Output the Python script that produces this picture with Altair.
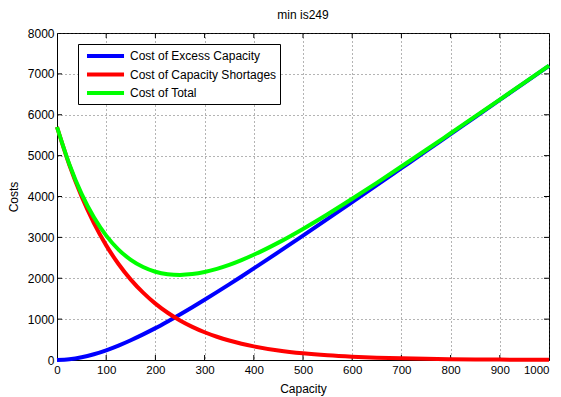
import altair as alt
import pandas as pd

capacity = [0, 25, 50, 75, 100, 125, 150, 175, 200, 225, 250, 275, 300, 325, 350, 375, 400,
            450, 500, 550, 600, 650, 700, 750, 800, 850, 900, 950, 1000]
excess = [0, 18, 66, 141, 238, 353, 484, 627, 780, 944, 1114, 1291, 1473, 1660, 1850, 2044, 2240,
          2638, 3043, 3451, 3863, 4277, 4693, 5109, 5527, 5944, 6362, 6781, 7199]
shortage = [5700, 4774, 3998, 3349, 2804, 2349, 1967, 1648, 1380, 1156, 968, 811, 679, 569, 476, 399, 334,
            234, 164, 115, 81, 57, 40, 28, 20, 14, 10, 7, 5]
total = [5700, 4792, 4064, 3490, 3042, 2702, 2451, 2275, 2160, 2100, 2082, 2102, 2152, 2229, 2326, 2443, 2574,
         2872, 3207, 3566, 3944, 4334, 4733, 5137, 5547, 5958, 6372, 6788, 7204]

series_names = ["Cost of Excess Capacity", "Cost of Capacity Shortages", "Cost of Total"]
series_colors = ["#0000FF", "#FF0000", "#00FF00"]
x_ticks = [0, 100, 200, 300, 400, 500, 600, 700, 800, 900, 1000]
y_ticks = [0, 1000, 2000, 3000, 4000, 5000, 6000, 7000, 8000]

rows = []
for i, (vals, name) in enumerate(zip([excess, shortage, total], series_names)):
    for c, v in zip(capacity, vals):
        rows.append({"Capacity": c, "Cost": v, "series": name, "order": i})
df = pd.DataFrame(rows)

W, H = 492, 327
FONT = "Liberation Sans"

xscale = alt.Scale(domain=[0, 1000], nice=False)
yscale = alt.Scale(domain=[0, 8000], nice=False)

lines = alt.Chart(df).mark_line(strokeWidth=4, interpolate="monotone").encode(
    x=alt.X("Capacity:Q", scale=xscale, title="Capacity",
            axis=alt.Axis(values=x_ticks, grid=True, tickSize=0, labelPadding=4,
                          titlePadding=8, format="d", labelFlush=False,
                          labelOverlap=False, labelFontSize=11.5,
                          labelAlign={"expr": "datum.value >= 1000 ? 'right' : 'center'"})),
    y=alt.Y("Cost:Q", scale=yscale, title="Costs",
            axis=alt.Axis(values=y_ticks, grid=True, tickSize=0, labelPadding=3,
                          titlePadding=7, format="d", labelFlush=False,
                          labelOverlap=False)),
    color=alt.Color("series:N", scale=alt.Scale(domain=series_names, range=series_colors),
                    legend=alt.Legend(title=None, orient="none", legendX=21, legendY=11,
                                      fillColor="white", strokeColor="black",
                                      padding=3, rowPadding=1.5,
                                      symbolType="M-0.43,0L4.86,0", symbolSize=196,
                                      symbolStrokeWidth=4, labelOffset=31,
                                      labelExpr="datum.label + '\u00a0\u00a0'",
                                      labelFont=FONT, labelFontSize=12,
                                      labelColor="black", cornerRadius=0)),
    detail="series:N",
    order="order:Q",
)

xt = pd.DataFrame({"t": x_ticks[1:-1]})
yt = pd.DataFrame({"t": y_ticks[1:-1]})
tick_bottom = alt.Chart(xt).mark_rule(color="black").encode(
    x=alt.X("t:Q", scale=xscale), y=alt.value(H - 5), y2=alt.value(H))
tick_top = alt.Chart(xt).mark_rule(color="black").encode(
    x=alt.X("t:Q", scale=xscale), y=alt.value(0), y2=alt.value(5))
tick_left = alt.Chart(yt).mark_rule(color="black").encode(
    y=alt.Y("t:Q", scale=yscale), x=alt.value(0), x2=alt.value(5))
tick_right = alt.Chart(yt).mark_rule(color="black").encode(
    y=alt.Y("t:Q", scale=yscale), x=alt.value(W - 5), x2=alt.value(W))

chart = alt.layer(tick_bottom, tick_top, tick_left, tick_right, lines).properties(
    width=W, height=H,
    title=alt.TitleParams("min is249", fontSize=12, fontWeight="normal", font=FONT,
                          color="black", offset=5, anchor="middle"),
    autosize=alt.AutoSizeParams(type="none"),
    padding={"left": 49, "top": 25, "right": 4, "bottom": 37},
).configure_view(stroke="black", strokeWidth=1).configure_axis(
    labelFont=FONT, titleFont=FONT, labelFontSize=12, titleFontSize=12,
    titleFontWeight="normal", labelColor="black", titleColor="black",
    domainColor="black", gridColor="#444444", gridDash=[1, 3], gridWidth=1,
    gridOpacity=0.8,
)

chart.save("out.html", embed_options={"renderer": "svg", "actions": False})
